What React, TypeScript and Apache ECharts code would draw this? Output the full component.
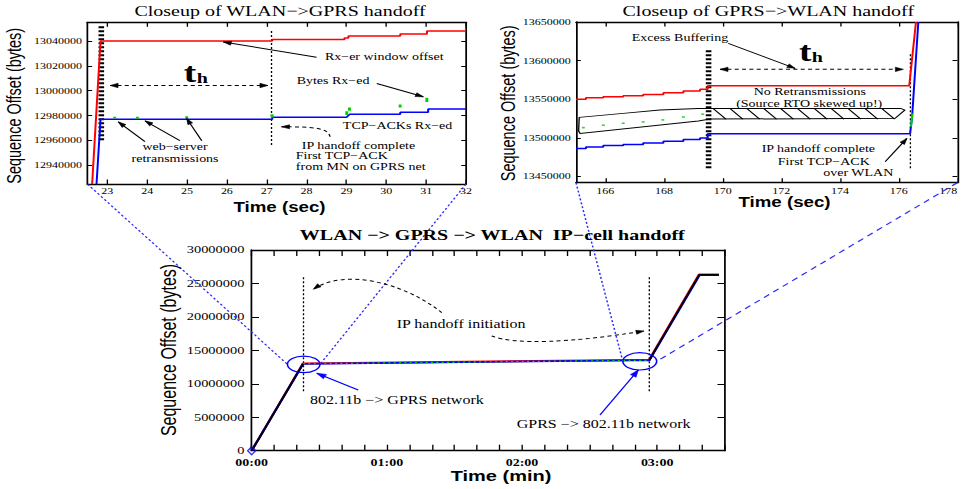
import { useEffect, useRef } from "react";
import * as echarts from "echarts";

const PAGE_W = 963;
const PAGE_H = 489;
const CHART_W = 722;
const STRETCH = PAGE_W / CHART_W;

const SERIF = "'Liberation Serif', 'Times New Roman', Times, serif";
const SANS = "'Liberation Sans', Arial, Helvetica, sans-serif";

const RED = "#ff0000";
const BLUE = "#0000ff";
const GREEN = "#00d000";
const LINK = "#2a2aff";

// ---- WLAN -> GPRS closeup: time (s) vs. sequence offset (bytes)
const wgTimeTicks = [23, 24, 25, 26, 27, 28, 29, 30, 31, 32];
const wgOffsetTicks = [12940000, 12960000, 12980000, 13000000, 13020000, 13040000];
const wgWindow = [
  [22.62, 12925000], [22.83, 13040000], [27.14, 13040000], [27.14, 13041200],
  [28.95, 13041200], [28.95, 13042400], [29.05, 13042400], [29.05, 13044000],
  [30.35, 13044000], [30.35, 13045600], [31.02, 13045600], [31.02, 13048000], [32, 13048000],
];
const wgAcks = [
  [22.73, 12925000], [22.83, 12977000], [27.14, 12977000], [27.14, 12978600],
  [29.0, 12978600], [29.08, 12981000], [30.35, 12981000], [30.35, 12982600],
  [31.05, 12982600], [31.05, 12985200], [32, 12985200],
];
// received segments: time, first byte, last byte
const wgBytes = [
  [23.17, 12977500, 12979000], [23.76, 12977500, 12979000], [24.99, 12977500, 12979500],
  [27.14, 12978500, 12981000], [29.0, 12980500, 12983500], [29.08, 12983800, 12986600],
  [30.35, 12986600, 12989000], [31.02, 12991000, 12994300],
];
const wgHandoffStart = 22.85;
const wgHandoffDone = 27.12;
const wgStartSpan = [12960200, 13053400];
const wgDoneSpan = [12956300, 13049000];

// ---- GPRS -> WLAN closeup
const gwTimeTicks = [166, 168, 170, 172, 174, 176, 178];
const gwOffsetTicks = [13450000, 13500000, 13550000, 13600000, 13650000];
const gwStepTimes = [165.0, 165.34, 165.93, 166.61, 167.29, 167.98, 168.66, 169.23, 169.49];
const gwWindowLevels = [13549900, 13551900, 13553200, 13554500, 13556300, 13558400, 13560600, 13562800, 13567500];
const gwAckLevels = [13486400, 13488300, 13490000, 13491600, 13493500, 13495600, 13497800, 13500000, 13505300];
const gwWindowRise = [[176.36, 13567500], [176.59, 13650000]];
const gwAckRise = [[176.39, 13505300], [176.46, 13528000], [176.67, 13650000]];
const gwBytes = [
  [165.25, 13513300], [165.93, 13516400], [166.61, 13519000], [167.29, 13520700],
  [167.96, 13523300], [168.66, 13527100], [169.32, 13530600],
];
const gwBytesRise = [[176.42, 13514400], [176.47, 13531700]];
const gwHandoffStart = 169.52;
const gwHandoffDone = 176.4;
const gwStartSpan = [13460850, 13615100];
const gwDoneSpan = [13460850, 13610300];

// ---- whole transfer: time (s, shown as mm:ss) vs. sequence offset
const mainTimeTicks = [0, 10, 20, 30, 40, 50, 60, 70, 80, 90, 100, 110, 120, 130, 140, 150, 160, 170, 180, 190, 200, 210];
const mainTimeLabels = [0, 60, 120, 180];
const mainOffsetTicks = [0, 5000000, 10000000, 15000000, 20000000, 25000000, 30000000];
const mainWindow = [[0, 0], [22.8, 13040000], [169.5, 13568000], [176.4, 13568000], [198.6, 26350000], [207.4, 26350000]];
const mainAcks = [[0, 0], [22.8, 12977000], [169.5, 13505000], [176.5, 13505000], [198.8, 26250000], [207.4, 26250000]];
const mainSent = [[0, 0], [22.8, 13000000], [176.5, 13520000], [198.7, 26300000], [207.4, 26300000]];
const mainHandoffs = [23.0, 176.5];
const mainHandoffSpan = [8900000, 26000000];

function stairs(times: number[], levels: number[]): number[][] {
  const pts: number[][] = [];
  times.forEach((t, i) => {
    if (i > 0) pts.push([t, levels[i - 1]]);
    pts.push([t, levels[i]]);
  });
  return pts;
}

const clock = (v: number) =>
  `${String(Math.floor(v / 60)).padStart(2, "0")}:${String(Math.round(v % 60)).padStart(2, "0")}`;

const frame = { show: true, onZero: false, lineStyle: { color: "#000", width: 1.3 } };

type Panel = {
  rect: { left: number; top: number; width: number; height: number };
  x: number[];
  y: number[];
  xTicks: number[];
  xLabels: number[];
  xFmt: (v: number) => string;
  xFont: number;
  xBold: boolean;
  yTicks: number[];
  yFont: number;
  xTickLen: number;
  yTickLen: number;
  xMargin: number;
  yMargin: number;
  alignLast?: boolean;
};

const panels: Panel[] = [
  {
    rect: { left: 65.5, top: 22.3, width: 283.9, height: 161.7 },
    x: [22.5, 32], y: [12925000, 13055000],
    xTicks: wgTimeTicks, xLabels: wgTimeTicks, xFmt: (v) => String(v), xFont: 9, xBold: false,
    yTicks: wgOffsetTicks, yFont: 9, xTickLen: 4.5, yTickLen: 3.6, xMargin: 3, yMargin: 4,
  },
  {
    rect: { left: 431.85, top: 22, width: 285.9, height: 160.7 },
    x: [165, 178], y: [13442000, 13650000],
    xTicks: gwTimeTicks, xLabels: gwTimeTicks, xFmt: (v) => String(v), xFont: 9, xBold: false,
    yTicks: gwOffsetTicks, yFont: 9, xTickLen: 4.5, yTickLen: 3.6, xMargin: 3.5, yMargin: 4, alignLast: true,
  },
  {
    rect: { left: 188.7, top: 250, width: 354.7, height: 200.7 },
    x: [0, 210], y: [0, 30000000],
    xTicks: mainTimeTicks, xLabels: mainTimeLabels, xFmt: clock, xFont: 10.5, xBold: true,
    yTicks: mainOffsetTicks, yFont: 10.8, xTickLen: 6, yTickLen: 5.5, xMargin: 6.8, yMargin: 5.5,
  },
];

const tickStyle = (values: number[], length: number) => ({
  show: true, inside: true, length, customValues: values, lineStyle: { color: "#000", width: 1 },
});

function line(g: number, data: number[][], color: string, width: number, type: any = "solid", z = 3) {
  return {
    type: "line", xAxisIndex: 2 * g, yAxisIndex: 2 * g, data, symbol: "none", showSymbol: false,
    silent: true, z, lineStyle: { color, width, type, cap: "butt" }, itemStyle: { color },
    emphasis: { disabled: true },
  };
}

function buildOption() {
  const grid: any[] = [];
  const xAxis: any[] = [];
  const yAxis: any[] = [];
  panels.forEach((p, g) => {
    grid.push({ ...p.rect, show: false, containLabel: false, outerBoundsMode: "none" });
    const xl: any = {
      customValues: p.xLabels, formatter: p.xFmt, margin: p.xMargin, color: "#000",
      fontFamily: SERIF, fontSize: p.xFont, fontWeight: p.xBold ? "bold" : "normal",
    };
    if (p.alignLast) xl.alignMaxLabel = "right";
    const yl = {
      customValues: p.yTicks, formatter: (v: number) => String(v), margin: p.yMargin, color: "#000",
      fontFamily: SERIF, fontSize: p.yFont,
    };
    xAxis.push(
      { type: "value", gridIndex: g, position: "bottom", min: p.x[0], max: p.x[1], axisLine: frame,
        axisTick: tickStyle(p.xTicks, p.xTickLen), axisLabel: xl, splitLine: { show: false } },
      { type: "value", gridIndex: g, position: "top", min: p.x[0], max: p.x[1], axisLine: frame,
        axisTick: tickStyle(p.xTicks, p.xTickLen), axisLabel: { show: false }, splitLine: { show: false } },
    );
    yAxis.push(
      { type: "value", gridIndex: g, position: "left", min: p.y[0], max: p.y[1], axisLine: frame,
        axisTick: tickStyle(p.yTicks, p.yTickLen), axisLabel: yl, splitLine: { show: false } },
      { type: "value", gridIndex: g, position: "right", min: p.y[0], max: p.y[1], axisLine: frame,
        axisTick: tickStyle(p.yTicks, p.yTickLen), axisLabel: { show: false }, splitLine: { show: false } },
    );
  });

  const gwWindowPts = stairs(gwStepTimes, gwWindowLevels).concat(gwWindowRise);
  const gwAckPts = stairs(gwStepTimes, gwAckLevels).concat(gwAckRise);

  const series: any[] = [
    // WLAN -> GPRS
    line(0, [[wgHandoffStart, wgStartSpan[0]], [wgHandoffStart, wgStartSpan[1]]], "#000", 4.2, [2, 2], 2),
    line(0, [[wgHandoffDone, wgDoneSpan[0]], [wgHandoffDone, wgDoneSpan[1]]], "#000", 1, [2, 2], 2),
    line(0, wgWindow, RED, 1.5),
    line(0, wgAcks, BLUE, 1.5),
    {
      type: "lines", coordinateSystem: "cartesian2d", xAxisIndex: 0, yAxisIndex: 0, silent: true, z: 4,
      data: wgBytes.map(([t, lo, hi]) => ({ coords: [[t, lo], [t, hi]] })),
      lineStyle: { color: GREEN, width: 2.2, opacity: 1 },
    },
    // GPRS -> WLAN
    line(1, [[gwHandoffStart, gwStartSpan[0]], [gwHandoffStart, gwStartSpan[1]]], "#000", 4.2, [2, 2], 2),
    line(1, [[gwHandoffDone, gwDoneSpan[0]], [gwHandoffDone, gwDoneSpan[1]]], "#000", 1, [2, 2], 2),
    line(1, gwWindowPts, RED, 1.5),
    line(1, gwAckPts, BLUE, 1.5),
    line(1, gwBytesRise, GREEN, 1.5, "solid", 4),
    {
      type: "scatter", xAxisIndex: 2, yAxisIndex: 2, data: gwBytes, symbol: "rect", symbolSize: [2.2, 1.6],
      itemStyle: { color: GREEN }, silent: true, z: 4,
    },
    // whole transfer
    ...mainHandoffs.map((t) => line(2, [[t, mainHandoffSpan[0]], [t, mainHandoffSpan[1]]], "#000", 1, [2, 2], 2)),
    line(2, mainWindow, RED, 1.9),
    line(2, mainAcks, BLUE, 1.8),
    line(2, mainSent.slice(1, 3), GREEN, 1.3, [1.5, 2.5], 4),
    line(2, mainSent.slice(0, 2), "#000", 1.5, "solid", 5),
    line(2, mainSent.slice(2), "#000", 1.5, "solid", 5),
    {
      type: "scatter", xAxisIndex: 4, yAxisIndex: 4, data: [mainSent[0]], symbol: "diamond", symbolSize: [6, 8],
      clip: false, itemStyle: { color: "rgba(0,0,0,0)", borderColor: BLUE, borderWidth: 1.2 }, silent: true, z: 6,
    },
  ];

  return { animation: false, backgroundColor: "#fff", grid, xAxis, yAxis, series };
}

function buildGraphics(chart: any) {
  const px = (g: number, t: number, v: number): number[] =>
    chart.convertToPixel({ xAxisIndex: 2 * g, yAxisIndex: 2 * g }, [t, v]);
  const els: any[] = [];

  const seg = (a: number[], b: number[], stroke: string, lineWidth = 1, lineDash?: number[]) =>
    els.push({
      type: "line", silent: true, z: 20,
      shape: { x1: a[0], y1: a[1], x2: b[0], y2: b[1] },
      style: { stroke, lineWidth, lineDash, fill: null },
    });
  const head = (from: number[], tip: number[], fill: string, len = 6, half = 2) => {
    const dx = tip[0] - from[0];
    const dy = tip[1] - from[1];
    const d = Math.hypot(dx, dy) || 1;
    const ux = dx / d;
    const uy = dy / d;
    const bx = tip[0] - ux * len;
    const by = tip[1] - uy * len;
    els.push({
      type: "polygon", silent: true, z: 21,
      shape: { points: [[tip[0], tip[1]], [bx - uy * half, by + ux * half], [bx + uy * half, by - ux * half]] },
      style: { fill, stroke: fill, lineWidth: 0.5 },
    });
  };
  const arrow = (a: number[], b: number[], color = "#000", width = 1, dash?: number[], len = 6, half = 2) => {
    seg(a, b, color, width, dash);
    head(a, b, color, len, half);
  };
  const curve = (p0: number[], p1: number[], p2: number[], p3: number[], dash: number[]) => {
    els.push({
      type: "bezierCurve", silent: true, z: 20,
      shape: { x1: p0[0], y1: p0[1], cpx1: p1[0], cpy1: p1[1], cpx2: p2[0], cpy2: p2[1], x2: p3[0], y2: p3[1] },
      style: { stroke: "#000", lineWidth: 1, lineDash: dash, fill: null },
    });
    head(p2, p3, "#000", 6, 2);
  };
  const label = (p: number[], text: string, opts: any = {}) =>
    els.push({
      type: "text", x: p[0], y: p[1], silent: true, z: 30, rotation: opts.rotation || 0,
      style: {
        text, fill: "#000", fontFamily: opts.family || SERIF, fontSize: opts.size || 10.5,
        fontWeight: opts.weight || "normal", align: opts.align || "left", verticalAlign: "middle",
      },
    });
  // "t" with a subscript "h", placed by its baseline
  const subscriptT = (g: number, t: number, baseline: number) => {
    const b = px(g, t, baseline);
    label([b[0], b[1] - 0.335 * 28], "t", { size: 28, weight: "bold" });
    label([b[0] + 9.6, b[1] - 0.335 * 15 + 1], "h", { size: 15, weight: "bold" });
  };
  const img = (x: number, y: number) => [x / STRETCH, y];

  // ---------- titles and axis names
  label(img(280, 10.5), "Closeup of WLAN\u2212>GPRS handoff", { size: 15, align: "center" });
  label(img(768.3, 10.5), "Closeup of GPRS\u2212>WLAN handoff", { size: 15, align: "center" });
  label(img(492.3, 235), "WLAN \u2212> GPRS \u2212> WLAN  IP\u2212cell handoff", { size: 15, weight: "bold", align: "center" });
  label(img(15, 105.8), "Sequence Offset (bytes)", { family: SANS, size: 14.5, align: "center", rotation: Math.PI / 2 });
  label(img(508.7, 103.3), "Sequence Offset (bytes)", { family: SANS, size: 14.5, align: "center", rotation: Math.PI / 2 });
  label(img(169, 350), "Sequence Offset (bytes)", { family: SANS, size: 16, align: "center", rotation: Math.PI / 2 });
  label(img(279.5, 207), "Time (sec)", { family: SANS, size: 14, weight: "bold", align: "center" });
  label(img(784.5, 202), "Time (sec)", { family: SANS, size: 14, weight: "bold", align: "center" });
  label(img(501, 476), "Time (min)", { family: SANS, size: 15, weight: "bold", align: "center" });

  // ---------- WLAN -> GPRS closeup notes
  {
    const spanA = px(0, 23.07, 13004200);
    const spanB = px(0, 27.03, 13004200);
    seg(spanA, spanB, "#000", 1, [3, 2.5]);
    head(spanB, spanA, "#000", 6, 2.2);
    head(spanA, spanB, "#000", 6, 2.2);
    subscriptT(0, 24.92, 13007100);

    label(px(0, 28.46, 13027160), "Rx\u2212er window offset");
    arrow(px(0, 28.25, 13026900), px(0, 25.91, 13039200));
    label(px(0, 27.75, 13008470), "Bytes Rx\u2212ed");
    arrow(px(0, 29.76, 13005800), px(0, 30.93, 12995100));
    label(px(0, 28.91, 12971800), "TCP\u2212ACKs Rx\u2212ed");
    label(px(0, 27.88, 12956100), "IP handoff complete");
    label(px(0, 27.73, 12947500), "First TCP\u2212ACK");
    label(px(0, 27.73, 12938900), "from MN on GPRS net");
    curve(px(0, 28.59, 12962980), px(0, 28.54, 12970000), px(0, 28.21, 12971000), px(0, 27.37, 12971000), [3, 2.5]);
    label(px(0, 24.7, 12955000), "web\u2212server", { align: "center" });
    label(px(0, 24.7, 12945300), "retransmissions", { align: "center" });
    arrow(px(0, 23.945, 12959000), px(0, 23.275, 12975000));
    arrow(px(0, 24.82, 12959800), px(0, 23.945, 12975800));
    arrow(px(0, 25.37, 12959800), px(0, 24.99, 12977750));
  }

  // ---------- GPRS -> WLAN closeup notes
  {
    const spanA = px(1, 169.91, 13588700);
    const spanB = px(1, 176.16, 13588700);
    seg(spanA, spanB, "#000", 1, [3, 2.5]);
    head(spanB, spanA, "#000", 6, 2.2);
    head(spanA, spanB, "#000", 6, 2.2);
    subscriptT(1, 172.6, 13599850);

    label(px(1, 166.9, 13630200), "Excess Buffering");
    arrow(px(1, 170.19, 13622400), px(1, 172.47, 13590000));
    label(px(1, 172.97, 13559300), "No Retransmissions", { align: "center" });
    label(px(1, 172.95, 13544700), "(Source RTO skewed up!)", { align: "center" });

    // outline of the buffered, never-retransmitted region
    const blob = [
      [165.11, 13526550], [166.61, 13531730], [167.86, 13536000], [169.17, 13538200], [176.07, 13538200],
      [176.21, 13536000], [175.88, 13525260], [169.57, 13524350], [169.17, 13521760], [165.14, 13505830],
      [165.09, 13508800],
    ].map(([t, v]) => px(1, t, v));
    els.push({
      type: "polygon", silent: true, z: 19, shape: { points: blob },
      style: { fill: null, stroke: "#000", lineWidth: 1 },
    });
    for (let i = 0; i < 11; i++) {
      const t = 169.67 + i * 0.575;
      seg(px(1, t, 13538200), px(1, t + 0.44, 13524350), "#000", 0.9);
    }

    label(px(1, 171.33, 13486400), "IP handoff complete");
    label(px(1, 171.88, 13469040), "First TCP\u2212ACK");
    label(px(1, 173.43, 13454800), "over WLAN");
    arrow(px(1, 175.54, 13469040), px(1, 176.28, 13499350));
  }

  // ---------- whole transfer notes
  {
    const c1 = px(2, 23.09, 12910000);
    const c2 = px(2, 172.25, 13360000);
    const r1 = [12.2, 8.3];
    const r2 = [12.7, 8.7];
    els.push(
      { type: "ellipse", silent: true, z: 18, shape: { cx: c1[0], cy: c1[1], rx: r1[0], ry: r1[1] }, style: { fill: null, stroke: BLUE, lineWidth: 1.2 } },
      { type: "ellipse", silent: true, z: 18, shape: { cx: c2[0], cy: c2[1], rx: r2[0], ry: r2[1] }, style: { fill: null, stroke: BLUE, lineWidth: 1.2 } },
    );
    seg(px(0, 22.5, 12925000), [c1[0] - r1[0], c1[1]], LINK, 1.1, [2, 2]);
    seg(px(0, 32, 12925000), [c1[0] + r1[0], c1[1]], LINK, 1.1, [2, 2]);
    seg(px(1, 165, 13442000), [c2[0] - r2[0], c2[1]], LINK, 1.1, [2, 2]);
    seg(px(1, 178, 13442000), [c2[0] + r2[0], c2[1]], LINK, 1.1, [5, 4]);

    label(px(2, 64.37, 18940000), "IP handoff initiation", { size: 12 });
    curve(px(2, 84.35, 20630000), px(2, 68.06, 25070000), px(2, 41.42, 27310000), px(2, 27.35, 24130000), [3, 2.5]);
    curve(px(2, 106.55, 17150000), px(2, 116.9, 15800000), px(2, 141.3, 16100000), px(2, 174.16, 17890000), [3, 2.5]);

    label(px(2, 25.88, 7580000), "802.11b \u2212> GPRS network", { size: 12 });
    arrow(px(2, 47.3, 9070000), px(2, 28.86, 11570000), BLUE, 1.1, undefined, 7, 2.5);
    label(px(2, 117.65, 4100000), "GPRS \u2212> 802.11b network", { size: 12 });
    arrow(px(2, 154.6, 5340000), px(2, 171.6, 12060000), BLUE, 1.1, undefined, 7, 2.5);
  }

  return els;
}

export default function App() {
  const ref = useRef<HTMLDivElement>(null);
  useEffect(() => {
    const el = ref.current;
    if (!el) return;
    const chart = echarts.init(el, null, { renderer: "svg" });
    chart.setOption(buildOption() as any);
    chart.setOption({ graphic: buildGraphics(chart) } as any);
    return () => chart.dispose();
  }, []);
  return (
    <div
      style={{
        position: "absolute", left: 0, top: 0, width: PAGE_W, height: PAGE_H,
        overflow: "hidden", background: "#fff",
      }}
    >
      <div
        ref={ref}
        style={{ width: CHART_W, height: PAGE_H, transform: `scaleX(${STRETCH})`, transformOrigin: "0 0" }}
      />
    </div>
  );
}
